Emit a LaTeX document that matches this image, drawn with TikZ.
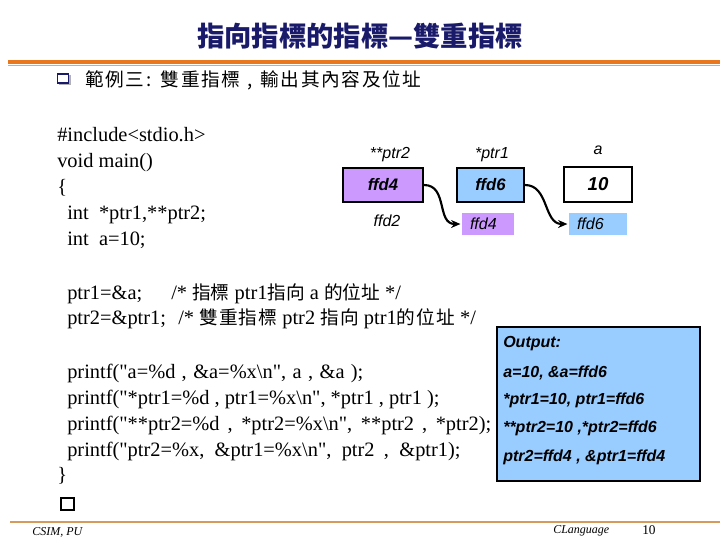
\documentclass[tikz,border=0pt]{standalone}
\usepackage{fontspec}
\setmainfont{Liberation Serif}
\setsansfont{Liberation Sans}
\newfontfamily\codefont{Liberation Serif}
\newfontfamily\cjk{Noto Sans CJK TC}
\newfontfamily\cjksp[LetterSpace=6]{Noto Sans CJK TC}
\newfontfamily\cjksub[LetterSpace=9]{Noto Sans CJK TC}
\usetikzlibrary{arrows.meta}
\definecolor{navy}{HTML}{1A1A6A}
\definecolor{orangeA}{HTML}{E8771E}
\definecolor{orangeB}{HTML}{F2A35E}
\definecolor{tanline}{HTML}{D59B5B}
\definecolor{purp}{HTML}{CC99FF}
\definecolor{lblue}{HTML}{99CCFF}
\newcommand\myzh[1]{{\cjk\fontsize{14}{16}\selectfont #1}}
\newcommand\myzhw[1]{{\cjksp\fontsize{14}{16}\selectfont #1}}
\begin{document}
\begin{tikzpicture}[x=0.75pt,y=-0.75pt,
  code/.style={anchor=base west, inner sep=0pt, font=\codefont\fontsize{15.3}{18}\selectfont},
  lab/.style={anchor=base, inner sep=0pt, font=\sffamily\itshape\fontsize{12}{14}\selectfont},
  regbox/.style={draw=black, line width=1.5pt, inner sep=0pt, font=\sffamily\bfseries\itshape\fontsize{12.5}{14}\selectfont},
  memrect/.style={inner xsep=6pt, inner ysep=0pt, align=left, font=\sffamily\itshape\fontsize{12}{14}\selectfont},
  outtxt/.style={anchor=base west, inner sep=0pt, font=\sffamily\bfseries\itshape\fontsize{12}{14}\selectfont},
  arr/.style={line width=1.6pt, -{Stealth[length=7pt,width=6pt]}},
  foot/.style={anchor=base west, inner sep=0pt, font=\itshape\fontsize{9}{10}\selectfont}]
\useasboundingbox (0,0) rectangle (720,540);
\fill[white] (0,0) rectangle (720,540);

% title
\node (title) at (360,36) [inner sep=0pt, text=navy, font=\cjk\bfseries\fontsize{20.5}{24}\selectfont] {指向指標的指標—雙重指標};
\coordinate (tl1) at (8,62);
\coordinate (tl2) at (720,62);
\draw[orangeA, line width=3.2pt] (tl1) -- (tl2);
\coordinate (tl3) at (8,65.5);
\coordinate (tl4) at (720,65.5);
\draw[orangeB, line width=1.2pt] (tl3) -- (tl4);

% subtitle
\fill[gray!60] (59,75) rectangle (71,85);
\node (bul) at (63,78.5) [draw=navy, fill=white, line width=1.2pt, minimum width=8pt, minimum height=7pt, inner sep=0pt] {};
\node (sub) at (85,80) [anchor=west, inner sep=0pt, font=\cjksub\fontsize{14}{16}\selectfont] {範例三:\hspace{7pt}雙重指標\hspace{5pt},\hspace{6pt}輸出其內容及位址};

% code
\node (c1) at (57,141) [code] {\#include<stdio.h>};
\node (c2) at (57,167) [code] {void main()};
\node (c3) at (57,193) [code] {\{};
\node (c4) at (67,219) [code] {int\ \ *ptr1,**ptr2;};
\node (c5) at (67,245) [code] {int\ \ a=10;};

\node (d1) at (67,299) [code] {ptr1=\&a;};
\node (d1c) at (171,299) [code] {/* \myzh{指標} ptr1\myzh{指向} a \myzh{的位址} */};
\node (d2) at (67,324) [code] {ptr2=\&ptr1;};
\node (d2c) at (178,324) [code] {/* \myzhw{雙重指標} ptr2 \myzhw{指向} ptr1\myzhw{的位址} */};

\node (e1) at (67,378) [code] {\makebox[222pt][s]{printf("a=\%d , \&a=\%x\textbackslash n", a , \&a );}};
\node (e2) at (67,404) [code] {printf("*ptr1=\%d , ptr1=\%x\textbackslash n", *ptr1 , ptr1 );};
\node (e3) at (67,430) [code] {\makebox[318pt][s]{printf("**ptr2=\%d , *ptr2=\%x\textbackslash n", **ptr2 , *ptr2);}};
\node (e4) at (67,456) [code] {\makebox[295pt][s]{printf("ptr2=\%x, \&ptr1=\%x\textbackslash n", ptr2 , \&ptr1);}};
\node (e5) at (57,481) [code] {\}};
\node (sq) at (67.5,504) [draw=black, line width=1.5pt, minimum width=9.5pt, minimum height=8.5pt, inner sep=0pt] {};

% memory diagram
\node (l2) at (390,158) [lab] {**ptr2};
\node (l1) at (492,158) [lab] {*ptr1};
\node (la) at (598,154) [lab] {a};
\node (p2) at (383,185) [regbox, fill=purp, minimum width=60pt, minimum height=25.5pt] {ffd4};
\node (p1) at (490.5,185) [regbox, fill=lblue, minimum width=50.25pt, minimum height=25.5pt] {ffd6};
\node (va) at (598,184.5) [regbox, fill=white, minimum width=51pt, minimum height=26.25pt, font=\sffamily\bfseries\itshape\fontsize{14}{16}\selectfont] {10};
\node (ad2) at (387,226) [lab] {ffd2};
\node (m1) at (488,224) [memrect, fill=purp, text width=27pt, minimum height=16.5pt] {ffd4};
\node (m2) at (598,224) [memrect, fill=lblue, text width=31.5pt, minimum height=16.5pt] {ffd6};
\draw[arr] (p2.east) .. controls +(24,0) and +(-24,0) .. ([xshift=-1pt]m1.west);
\draw[arr] (p1.east) .. controls +(24,0) and +(-24,0) .. ([xshift=-1pt]m2.west);

% output box
\node (out) at (598.5,404) [draw=black, line width=1.5pt, fill=lblue, minimum width=152.25pt, minimum height=115pt, inner sep=0pt] {};
\node (o0) at (503,347) [outtxt] {Output:};
\node (o1) at (503,377) [outtxt] {a=10, \&a=ffd6};
\node (o2) at (503,404) [outtxt] {*ptr1=10, ptr1=ffd6};
\node (o3) at (503,432) [outtxt] {**ptr2=10 ,*ptr2=ffd6};
\node (o4) at (503,461) [outtxt] {ptr2=ffd4 , \&ptr1=ffd4};

% footer
\coordinate (bl1) at (10,522);
\coordinate (bl2) at (720,522);
\draw[tanline, line width=2.2pt] (bl1) -- (bl2);
\node (f1) at (32,535) [foot] {CSIM, PU};
\node (f2) at (553,533) [foot] {CLanguage};
\node (f3) at (642,534) [anchor=base west, inner sep=0pt, font=\fontsize{10}{12}\selectfont] {10};
\end{tikzpicture}
\end{document}
